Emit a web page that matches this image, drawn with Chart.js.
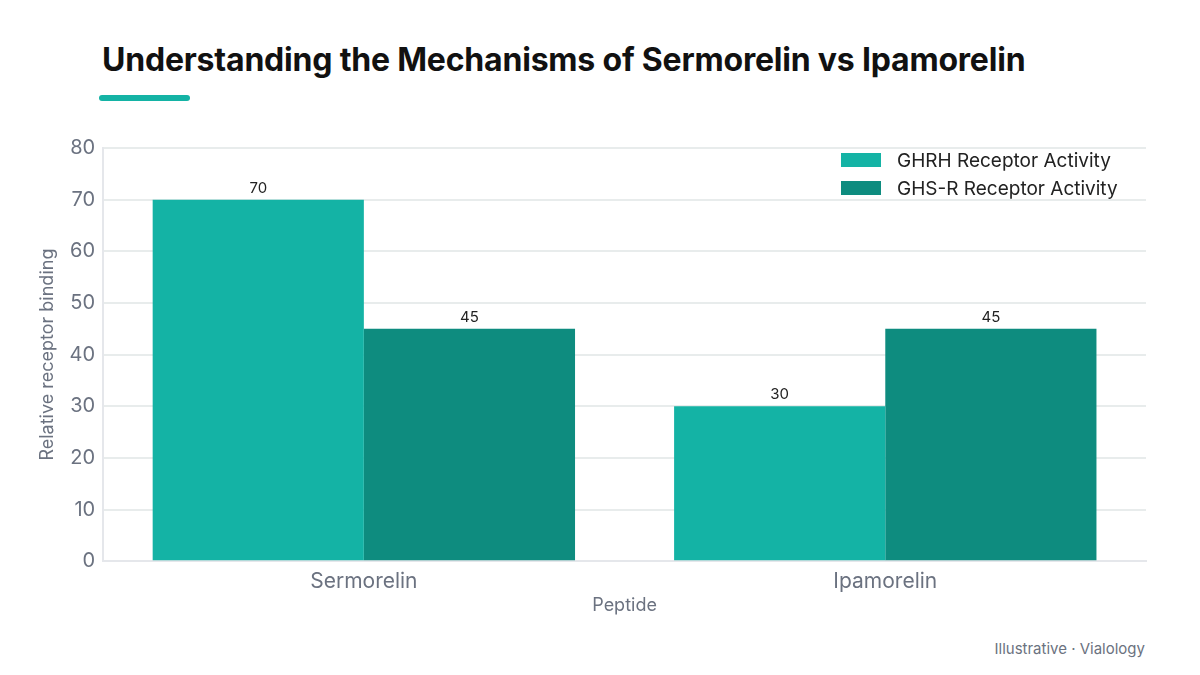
<!DOCTYPE html>
<html>
<head>
<meta charset="utf-8">
<script src="https://cdn.jsdelivr.net/npm/chart.js@4"></script>
<style>
  body { margin: 0; width: 1200px; height: 675px; background: #fff; font-family: Inter, "Noto Sans", sans-serif; position: relative; overflow: hidden; }
  #title { position: absolute; left: 102px; top: 40px; font-size: 32px; font-weight: 700; color: #111; letter-spacing: -0.2px; }
  #bar { position: absolute; left: 99px; top: 95px; width: 91px; height: 6px; border-radius: 3px; background: #14b3a5; }
  #wrap { position: absolute; left: 0; top: 128px; width: 1200px; height: 492px; }
  #legend { position: absolute; left: 841px; top: 146px; font-size: 19px; color: #222; }
  #legend div { height: 28px; display: flex; align-items: center; }
  #legend span.sw { display: inline-block; width: 40px; height: 14px; margin-right: 16px; }
  #foot { position: absolute; right: 55px; top: 639px; font-size: 15px; color: #6b7280; }
</style>
</head>
<body>
<div id="title">Understanding the Mechanisms of Sermorelin vs Ipamorelin</div>
<div id="bar"></div>
<div id="wrap"><canvas id="myChart"></canvas></div>
<div id="legend"></div>
<div id="foot">Illustrative · Vialology</div>
<script>
var peptides = ["Sermorelin", "Ipamorelin"];
var ghrhValues = [70, 30];
var ghsrValues = [45, 45];
var seriesNames = ["GHRH Receptor Activity", "GHS-R Receptor Activity"];
var barColors = ["#14b3a5", "#0e8c7f"];
var yTicks = [0, 10, 20, 30, 40, 50, 60, 70, 80];

var gray = "#6b7280";

// values above the bars
var valueLabels = {
  id: "valueLabels",
  afterDatasetsDraw: function(chart) {
    var ctx = chart.ctx;
    ctx.save();
    ctx.font = "15px Inter, 'Noto Sans', sans-serif";
    ctx.fillStyle = "#222";
    ctx.textAlign = "center";
    ctx.textBaseline = "bottom";
    chart.data.datasets.forEach(function(ds, i) {
      chart.getDatasetMeta(i).data.forEach(function(bar, j) {
        ctx.fillText(ds.data[j], bar.x, bar.y - 4);
      });
    });
    ctx.restore();
  }
};

var chart = new Chart("myChart", {
  type: "bar",
  data: {
    labels: peptides,
    datasets: [
      { label: seriesNames[0], data: ghrhValues, backgroundColor: barColors[0] },
      { label: seriesNames[1], data: ghsrValues, backgroundColor: barColors[1] }
    ]
  },
  options: {
    responsive: true,
    maintainAspectRatio: false,
    animation: false,
    layout: { padding: { left: 33, right: 54, top: 12, bottom: 0 } },
    datasets: { bar: { categoryPercentage: 0.81, barPercentage: 1.0 } },
    plugins: {
      legend: { display: false },
      tooltip: { enabled: false }
    },
    scales: {
      x: {
        grid: { display: false },
        border: { color: "#e5e7eb", width: 2 },
        ticks: { color: gray, font: { size: 21, family: "Inter" }, padding: 0 },
        title: { display: true, text: "Peptide", color: gray, font: { size: 18, family: "Inter" }, padding: { top: 0 } }
      },
      y: {
        min: 0, max: 80,
        afterBuildTicks: function(axis) {
          axis.ticks = yTicks.map(function(v) { return { value: v }; });
        },
        grid: { color: "#e8ecec", lineWidth: 2, drawTicks: false },
        border: { color: "#e5e7eb", width: 2 },
        ticks: { color: gray, font: { size: 20, family: "Inter" }, padding: 8 },
        title: { display: true, text: "Relative receptor binding", color: gray, font: { size: 18, family: "Inter" }, padding: { bottom: 3 } }
      }
    }
  },
  plugins: [valueLabels]
});

var legend = document.getElementById("legend");
seriesNames.forEach(function(name, i) {
  var row = document.createElement("div");
  row.innerHTML = '<span class="sw" style="background:' + barColors[i] + '"></span>' + name;
  legend.appendChild(row);
});
</script>
</body>
</html>
